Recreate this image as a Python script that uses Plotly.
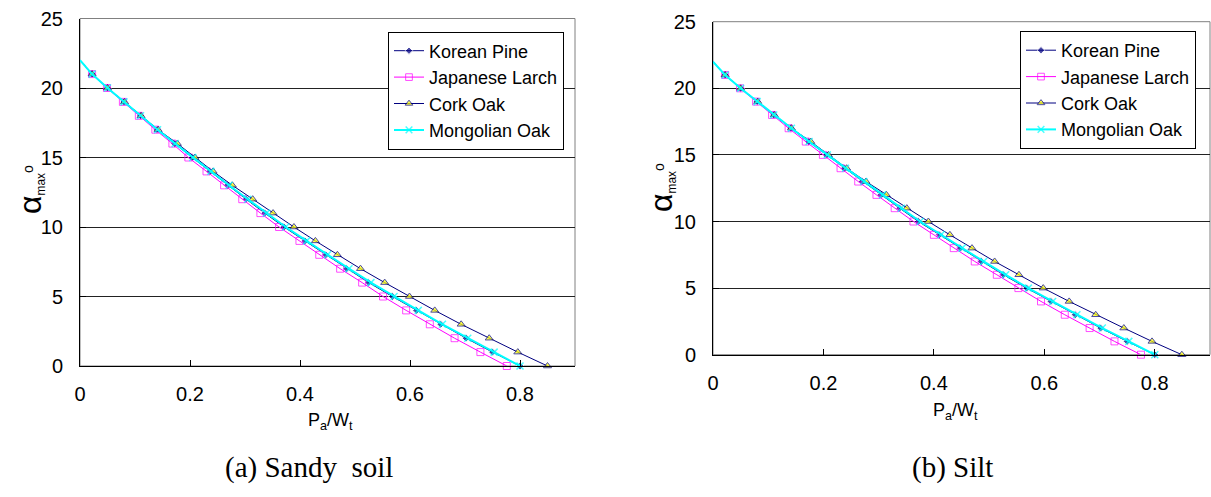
import plotly.graph_objects as go

# ---- data (alpha_max in degrees, x = Pa/Wt) ----
alpha = [22, 21, 20, 19, 18, 17, 16, 15, 14, 13, 12, 11, 10, 9, 8, 7, 6, 5, 4, 3, 2, 1, 0]

sandy_korean_pine = [0, 0.022, 0.050, 0.080, 0.110, 0.140, 0.172, 0.204, 0.236, 0.268, 0.302, 0.336,
                     0.371, 0.409, 0.447, 0.485, 0.525, 0.568, 0.612, 0.656, 0.702, 0.750, 0.800]
sandy_japanese_larch = [0, 0.022, 0.049, 0.078, 0.107, 0.137, 0.168, 0.197, 0.230, 0.262, 0.295, 0.328,
                        0.362, 0.399, 0.435, 0.473, 0.513, 0.551, 0.593, 0.636, 0.681, 0.728, 0.776]
sandy_cork_oak = [0, 0.022, 0.050, 0.081, 0.111, 0.142, 0.177, 0.209, 0.242, 0.277, 0.314, 0.351,
                  0.389, 0.428, 0.468, 0.510, 0.554, 0.599, 0.645, 0.693, 0.744, 0.796, 0.850]
sandy_mongolian_oak = [0, 0.022, 0.050, 0.080, 0.110, 0.141, 0.173, 0.205, 0.238, 0.271, 0.305, 0.339,
                       0.374, 0.412, 0.450, 0.489, 0.529, 0.571, 0.615, 0.659, 0.705, 0.753, 0.800]

silt_korean_pine = [0, 0.022, 0.050, 0.080, 0.110, 0.141, 0.173, 0.206, 0.238, 0.270, 0.304, 0.338,
                    0.372, 0.410, 0.448, 0.486, 0.526, 0.568, 0.612, 0.656, 0.702, 0.750, 0.800]
silt_japanese_larch = [0, 0.022, 0.049, 0.078, 0.107, 0.137, 0.168, 0.199, 0.231, 0.263, 0.296, 0.329,
                       0.363, 0.400, 0.436, 0.474, 0.514, 0.553, 0.594, 0.637, 0.682, 0.727, 0.775]
silt_cork_oak = [0, 0.022, 0.050, 0.081, 0.111, 0.142, 0.177, 0.209, 0.242, 0.277, 0.314, 0.351,
                 0.390, 0.429, 0.469, 0.510, 0.554, 0.598, 0.645, 0.693, 0.744, 0.795, 0.849]
silt_mongolian_oak = [0, 0.022, 0.050, 0.080, 0.110, 0.142, 0.174, 0.207, 0.240, 0.273, 0.307, 0.341,
                      0.375, 0.413, 0.451, 0.490, 0.530, 0.571, 0.615, 0.659, 0.705, 0.753, 0.800]

series_names = ["Korean Pine", "Japanese Larch", "Cork Oak", "Mongolian Oak"]
x_ticks = [0, 0.2, 0.4, 0.6, 0.8]
x_tick_labels = ["0", "0.2", "0.4", "0.6", "0.8"]
y_ticks = [0, 5, 10, 15, 20, 25]
captions = ["(a) Sandy  soil", "(b) Silt"]

W, H = 1211, 497
FONT = "Liberation Sans, Arial, sans-serif"

styles = [
    dict(line=dict(color="#000080", width=1),
         marker=dict(symbol="diamond", size=6, color="#000080")),
    dict(line=dict(color="#FF00FF", width=1),
         marker=dict(symbol="square-open", size=7, color="#FF00FF", line=dict(color="#FF00FF", width=1))),
    dict(line=dict(color="#000080", width=1),
         marker=dict(symbol="triangle-up", size=7, color="#FFFF00", line=dict(color="#000080", width=1))),
    dict(line=dict(color="#00FFFF", width=2),
         marker=dict(symbol="x-thin", size=7, color="#00FFFF", line=dict(color="#00FFFF", width=1.5))),
]

msize = [0] + [1] * (len(alpha) - 1)

fig = go.Figure()

panels = [
    ("x", "y", "legend", [sandy_korean_pine, sandy_japanese_larch, sandy_cork_oak, sandy_mongolian_oak]),
    ("x2", "y2", "legend2", [silt_korean_pine, silt_japanese_larch, silt_cork_oak, silt_mongolian_oak]),
]
for xa, ya, lg, data in panels:
    for name, xs, st in zip(series_names, data, styles):
        mk = dict(st["marker"])
        mk["size"] = [mk["size"] * m for m in msize]
        fig.add_trace(go.Scatter(x=xs, y=alpha, mode="lines+markers", name=name,
                                 line=st["line"], marker=mk, xaxis=xa, yaxis=ya,
                                 legend=lg, cliponaxis=False))

def px(v):
    return v / W

def py(v):
    return (H - v) / H

axis_common = dict(
    showline=True, linecolor="black", linewidth=1,
    ticks="inside", ticklen=6, tickcolor="black",
    tickfont=dict(family=FONT, size=20, color="black"),
    zeroline=False, automargin=False,
)

fig.update_layout(
    width=W, height=H, margin=dict(l=0, r=0, t=0, b=0, autoexpand=False),
    paper_bgcolor="white", plot_bgcolor="white",
    showlegend=True,
    xaxis=dict(domain=[px(80), px(575)], range=[0, 0.9], anchor="y",
               tickvals=x_ticks, ticktext=x_tick_labels, showgrid=False,
               ticklabelstandoff=10, **axis_common),
    yaxis=dict(domain=[py(366), py(18.5)], range=[0, 25], anchor="x",
               tickvals=y_ticks, showgrid=True, gridcolor="#222222", gridwidth=1,
               ticklabelstandoff=12, **axis_common),
    xaxis2=dict(domain=[px(713), px(1210)], range=[0, 0.9], anchor="y2",
                tickvals=x_ticks, ticktext=x_tick_labels, showgrid=False,
                ticklabelstandoff=10, **axis_common),
    yaxis2=dict(domain=[py(354.7), py(21.7)], range=[0, 25], anchor="x2",
                tickvals=y_ticks, showgrid=True, gridcolor="#222222", gridwidth=1,
                ticklabelstandoff=12, **axis_common),
    legend=dict(x=px(388), y=py(31.5), xanchor="left", yanchor="top",
                bgcolor="white", bordercolor="black", borderwidth=1,
                font=dict(family=FONT, size=18, color="black"), itemwidth=30),
    legend2=dict(x=px(1020), y=py(31), xanchor="left", yanchor="top",
                 bgcolor="white", bordercolor="black", borderwidth=1,
                 font=dict(family=FONT, size=18, color="black"), itemwidth=30),
)

# gray frame (top / right borders)
for xr, yr in [("x domain", "y domain"), ("x2 domain", "y2 domain")]:
    fig.add_shape(type="rect", xref=xr, yref=yr, x0=0, x1=1, y0=0, y1=1,
                  line=dict(color="#808080", width=1), layer="below")

ytitle = ('<span style="font-size:32px">α</span>'
          '<span style="font-size:17px"><sub>max</sub></span>'
          '<span style="font-size:20px"><sup>o</sup></span>')
for xc, yc in [(30, 190), (661, 188)]:
    fig.add_annotation(x=px(xc), y=py(yc), xref="paper", yref="paper", text=ytitle,
                       textangle=-90, showarrow=False, xanchor="center", yanchor="middle",
                       font=dict(family=FONT, size=22, color="black"))

for xc, yc in [(330, 421), (955, 411)]:
    fig.add_annotation(x=px(xc), y=py(yc), xref="paper", yref="paper",
                       text="P<sub>a</sub>/W<sub>t</sub>", showarrow=False,
                       xanchor="center", yanchor="middle",
                       font=dict(family=FONT, size=18, color="black"))

for (xc, yc), cap in zip([(309, 467), (952, 467)], captions):
    fig.add_annotation(x=px(xc), y=py(yc), xref="paper", yref="paper",
                       text=cap, showarrow=False, xanchor="center", yanchor="middle",
                       font=dict(family="Liberation Serif, serif", size=29, color="black"))

fig.write_html("out.html")
